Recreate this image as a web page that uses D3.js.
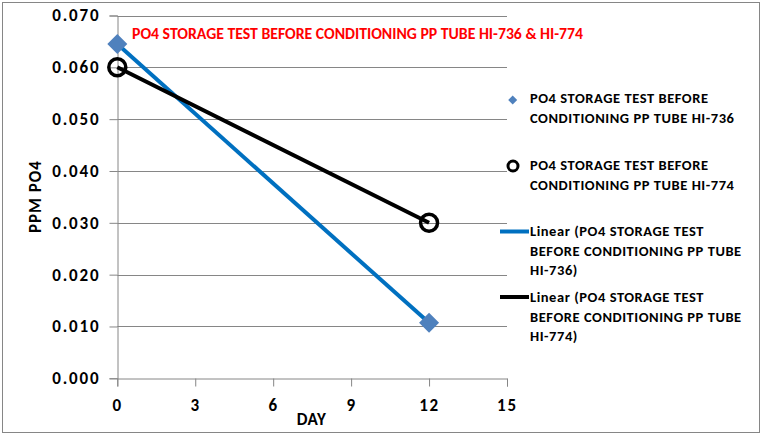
<!DOCTYPE html>
<html><head><meta charset="utf-8">
<script src="https://cdn.jsdelivr.net/npm/d3@7"></script>
<style>
body{margin:0;background:#fff;}
svg{display:block;font-family:Carlito,Lato,sans-serif;}
</style></head>
<body><svg id="c" width="763" height="436"></svg>
<script>
const days = [0, 12];
const hi736 = [0.0645, 0.0107];
const hi774 = [0.0600, 0.0300];
const xTicks = [0, 3, 6, 9, 12, 15];
const yTicks = [0, 0.01, 0.02, 0.03, 0.04, 0.05, 0.06, 0.07];
const title = "PO4 STORAGE TEST BEFORE CONDITIONING PP TUBE HI-736 & HI-774";
const legendLabels = [
  ["PO4 STORAGE TEST BEFORE", "CONDITIONING PP TUBE HI-736"],
  ["PO4 STORAGE TEST BEFORE", "CONDITIONING PP TUBE HI-774"],
  ["Linear (PO4 STORAGE TEST", "BEFORE CONDITIONING PP TUBE", "HI-736)"],
  ["Linear (PO4 STORAGE TEST", "BEFORE CONDITIONING PP TUBE", "HI-774)"]
];

const svg = d3.select("#c");
const x = d3.scaleLinear().domain([0, 15]).range([117.3, 507]);
const y = d3.scaleLinear().domain([0, 0.07]).range([378.3, 15.5]);
const gridC = "#868686";

svg.append("rect").attr("x", 2.5).attr("y", 2.5).attr("width", 757).attr("height", 430)
  .attr("fill", "#fff").attr("stroke", gridC).attr("stroke-width", 1);

// gridlines
svg.append("g").selectAll("line").data(yTicks.slice(1)).join("line")
  .attr("x1", x(0)).attr("x2", x(15)).attr("y1", d => Math.round(y(d)) + 0.5).attr("y2", d => Math.round(y(d)) + 0.5)
  .attr("stroke", gridC).attr("stroke-width", 1);

// axes
const yAxis = d3.axisLeft(y).tickValues(yTicks).tickFormat(d3.format(".3f")).tickSize(8).tickPadding(11);
const xAxis = d3.axisBottom(x).tickValues(xTicks).tickFormat(d3.format("d")).tickSize(8).tickPadding(8);
const gy = svg.append("g").attr("transform", `translate(${Math.round(x(0)) + 0.5},0)`).call(yAxis);
const gx = svg.append("g").attr("transform", `translate(0,${Math.round(y(0)) + 0.5})`).call(xAxis);
[gx, gy].forEach(g => {
  g.select(".domain").attr("stroke", gridC);
  g.selectAll(".tick line").attr("stroke", gridC);
  g.selectAll(".tick text").attr("font-family", "Carlito,Lato,sans-serif").attr("font-size", 17)
    .attr("font-weight", "bold").attr("fill", "#000").style("letter-spacing", "1.8px");
});
gy.selectAll(".tick text").attr("dx", "1.8px");
gx.selectAll(".tick text").attr("dy", "0.95em");

// axis titles
svg.append("text").attr("x", 311.5).attr("y", 425).attr("text-anchor", "middle")
  .attr("font-size", 17).attr("font-weight", "bold").style("letter-spacing", "0.5px").text("DAY");
svg.append("text").attr("transform", "translate(41,196.5) rotate(-90)").attr("text-anchor", "middle")
  .attr("font-size", 17).attr("font-weight", "bold").style("letter-spacing", "1px").text("PPM PO4");

// trend lines
const line = d3.line().x(d => x(d[0])).y(d => y(d[1]));
svg.append("path").datum(days.map((d, i) => [d, hi736[i]])).attr("d", line)
  .attr("fill", "none").attr("stroke", "#0070C0").attr("stroke-width", 4);
svg.append("path").datum(days.map((d, i) => [d, hi774[i]])).attr("d", line)
  .attr("fill", "none").attr("stroke", "#000").attr("stroke-width", 4);

// markers
const diamond = s => `M0,${-s}L${s},0L0,${s}L${-s},0Z`;
svg.append("g").selectAll("path").data(days.map((d, i) => [d, hi736[i]])).join("path")
  .attr("transform", d => `translate(${x(d[0])},${y(d[1])})`).attr("d", diamond(10))
  .attr("fill", "#4F81BD");
svg.append("g").selectAll("circle").data(days.map((d, i) => [d, hi774[i]])).join("circle")
  .attr("cx", d => x(d[0])).attr("cy", d => y(d[1])).attr("r", 8.5)
  .attr("fill", "none").attr("stroke", "#000").attr("stroke-width", 3.5);

// title
svg.append("text").attr("x", 132).attr("y", 38.7).attr("fill", "#FF0000")
  .attr("font-size", 15.8).attr("font-weight", "bold")
  .attr("textLength", 451).attr("lengthAdjust", "spacingAndGlyphs").text(title);

// legend
const legY = [103.3, 170, 236, 302];
const lg = svg.append("g").attr("font-size", 14.5).attr("font-weight", "bold").style("letter-spacing", "0.55px");
legendLabels.forEach((lines, i) => {
  const t = lg.append("text").attr("x", 530).attr("y", legY[i]);
  lines.forEach((s, j) => t.append("tspan").attr("x", 530).attr("dy", j === 0 ? 0 : 19.7).text(s));
});
lg.append("path").attr("transform", `translate(512.7,100)`).attr("d", diamond(4.5)).attr("fill", "#4F81BD");
lg.append("circle").attr("cx", 513).attr("cy", 166).attr("r", 5).attr("fill", "none").attr("stroke", "#000").attr("stroke-width", 3);
lg.append("line").attr("x1", 500).attr("x2", 529).attr("y1", 231.5).attr("y2", 231.5).attr("stroke", "#0070C0").attr("stroke-width", 4);
lg.append("line").attr("x1", 500).attr("x2", 529).attr("y1", 297).attr("y2", 297).attr("stroke", "#000").attr("stroke-width", 4);
</script></body></html>
